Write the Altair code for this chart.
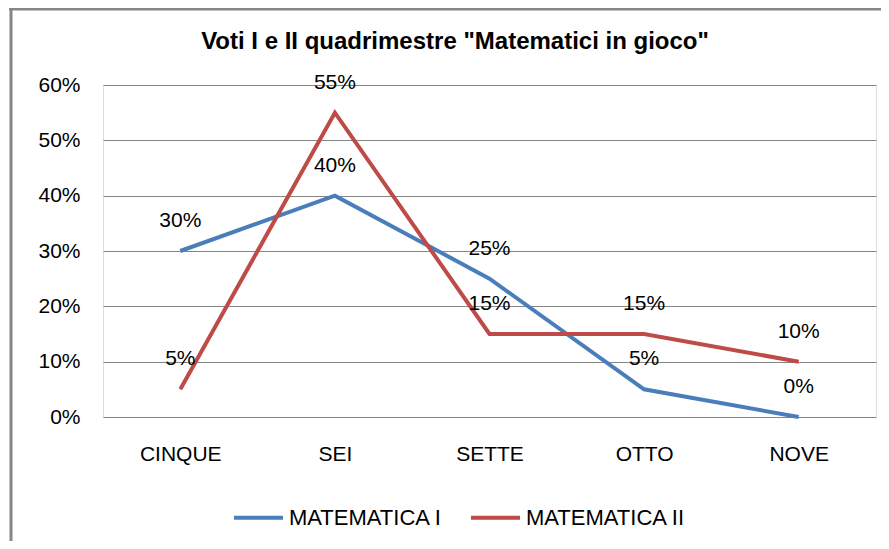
import altair as alt
import pandas as pd

categories = ["CINQUE", "SEI", "SETTE", "OTTO", "NOVE"]
mat1 = [0.30, 0.40, 0.25, 0.05, 0.00]
mat2 = [0.05, 0.55, 0.15, 0.15, 0.10]
series_names = ["MATEMATICA I", "MATEMATICA II"]
colors = ["#4A7EBB", "#BE4B48"]
y_ticks = [0, 0.1, 0.2, 0.3, 0.4, 0.5, 0.6]
title_text = 'Voti I e II quadrimestre "Matematici in gioco"'

rows = []
for order, (name, vals) in enumerate(zip(series_names, [mat1, mat2])):
    for c, v in zip(categories, vals):
        rows.append({"cat": c, "val": v, "serie": name, "ord": order})
df = pd.DataFrame(rows)

FONT = "Liberation Sans"
GRID = "#868686"

x_enc = alt.X("cat:N", sort=categories, title=None,
              axis=alt.Axis(labelAngle=0, domain=False, ticks=False, grid=False,
                            labelFont=FONT, labelFontSize=21, labelColor="black",
                            labelPadding=26))
y_enc = alt.Y("val:Q", title=None,
              scale=alt.Scale(domain=[0, 0.6], nice=False),
              axis=alt.Axis(values=y_ticks, format=".0%", domain=False, ticks=False,
                            grid=True, gridColor=GRID, gridWidth=1, gridOpacity=1,
                            labelFont=FONT, labelFontSize=21, labelColor="black",
                            labelPadding=23))
color_enc = alt.Color("serie:N", sort=series_names,
                      scale=alt.Scale(domain=series_names, range=colors),
                      legend=alt.Legend(orient="none", legendX=129, legendY=406,
                                        direction="horizontal", title=None,
                                        symbolType="stroke", symbolSize=2400,
                                        symbolStrokeWidth=4, labelFontSize=22,
                                        labelFont=FONT, labelColor="black",
                                        columnPadding=20, labelOffset=4,
                                        labelLimit=300))

base = alt.Chart(df)
lines = base.mark_line(strokeWidth=4).encode(x=x_enc, y=y_enc, color=color_enc,
                                             order=alt.Order("ord:Q"))
labels = base.mark_text(dy=-30, fontSize=21, font=FONT, color="black").encode(
    x=alt.X("cat:N", sort=categories),
    y="val:Q",
    text=alt.Text("val:Q", format=".0%"),
)

frame_df = pd.DataFrame({"k": [0]})
left_border = alt.Chart(frame_df).mark_rule(color=GRID, strokeWidth=3).encode(
    x=alt.value(-92), y=alt.value(-85), y2=alt.value(460))
top_border = alt.Chart(frame_df).mark_rule(color=GRID, strokeWidth=3).encode(
    x=alt.value(-94), x2=alt.value(790), y=alt.value(-76))

title_df = pd.DataFrame({"t": [title_text]})
title_mark = alt.Chart(title_df).mark_text(
    fontSize=24, font=FONT, fontWeight="bold", color="black",
    align="center", baseline="alphabetic").encode(
    x=alt.value(352), y=alt.value(-36), text="t:N")

chart = alt.layer(left_border, top_border, lines, labels, title_mark).properties(
    width=773, height=332,
    autosize=alt.AutoSizeParams(type="none"),
    padding={"left": 95, "top": 77, "right": 5, "bottom": 124},
).configure_view(stroke=None).configure(background="white")

chart.save("out.html", embed_options={"renderer": "svg", "actions": False})
